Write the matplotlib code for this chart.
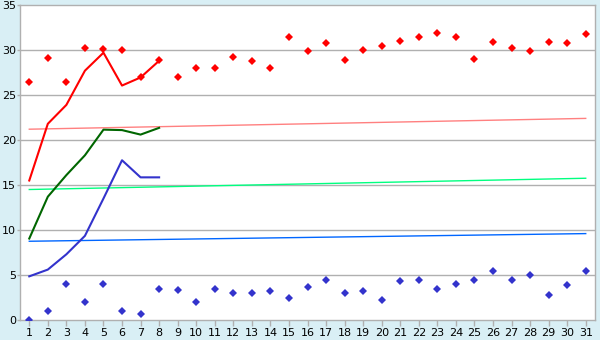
import matplotlib
matplotlib.use("Agg")
import matplotlib.pyplot as plt
import numpy as np

days = list(range(1, 32))

# scatter series (all 31 days)
red_pts = [26.5, 29.1, 26.5, 30.2, 30.1, 30.0, 27.0, 28.85, 27.0, 27.95,
           28.05, 29.2, 28.75, 27.95, 31.5, 29.85, 30.75, 28.85, 29.95, 30.5,
           30.95, 31.4, 31.85, 31.5, 28.95, 30.85, 30.2, 29.85, 30.85, 30.75, 31.75]
blue_pts = [0.0, 1.0, 4.0, 2.0, 4.0, 1.0, 0.65, 3.5, 3.3, 1.95,
            3.5, 2.95, 2.95, 3.2, 2.4, 3.65, 4.4, 2.95, 3.2, 2.2,
            4.3, 4.4, 3.4, 3.95, 4.4, 5.4, 4.5, 4.95, 2.75, 3.85, 5.5]

# line series (first 8 days)
line_days = days[:8]
red_line = [15.5, 21.8, 23.9, 27.7, 29.7, 26.05, 26.95, 28.8]
green_line = [9.05, 13.7, 16.1, 18.3, 21.15, 21.1, 20.6, 21.35]
blue_line = [4.85, 5.6, 7.3, 9.35, 13.5, 17.75, 15.85, 15.85]

# trend lines: value at day 1 and day 31
trend_days = [1, 31]
red_trend = [21.2, 22.4]
green_trend = [14.5, 15.75]
blue_trend = [8.75, 9.6]

fig = plt.figure(figsize=(6, 3.4), dpi=100)
fig.patch.set_facecolor("#d9eff5")
ax = fig.add_axes([20 / 600, 20 / 340, 575 / 600, 315 / 340])
ax.set_facecolor("white")

grid_c = "#b0b0b0"
for y in range(5, 35, 5):
    ax.axhline(y, color=grid_c, lw=1.0, zorder=1)

ax.plot(trend_days, red_trend, color="#ff8080", lw=1.0, zorder=2)
ax.plot(trend_days, green_trend, color="#00ff80", lw=1.0, zorder=2)
ax.plot(trend_days, blue_trend, color="#0066ff", lw=1.0, zorder=2)

ax.plot(line_days, red_line, color="#ff0000", lw=1.5, zorder=3)
ax.plot(line_days, green_line, color="#006600", lw=1.5, zorder=3)
ax.plot(line_days, blue_line, color="#3333cc", lw=1.5, zorder=3)

ax.plot(days, red_pts, linestyle="none", marker="D", ms=3.6, mew=0, color="#ff0000", zorder=4)
ax.plot(days, blue_pts, linestyle="none", marker="D", ms=3.6, mew=0, color="#3333cc", zorder=4)

ax.set_xlim(0.5, 31.5)
ax.set_ylim(0, 35)
ax.set_xticks(days)
ax.set_xticklabels([str(d) for d in days])
ax.set_yticks(range(0, 40, 5))

for s in ax.spines.values():
    s.set_color(grid_c)
    s.set_linewidth(1.0)

ax.tick_params(axis="x", colors=grid_c, labelcolor="black", labelsize=8,
               length=4, width=1.0, pad=2)
ax.tick_params(axis="y", colors=grid_c, labelcolor="black", labelsize=8,
               length=2, width=1.0, pad=1)

fig.savefig("out.png", dpi=100, facecolor=fig.get_facecolor())
